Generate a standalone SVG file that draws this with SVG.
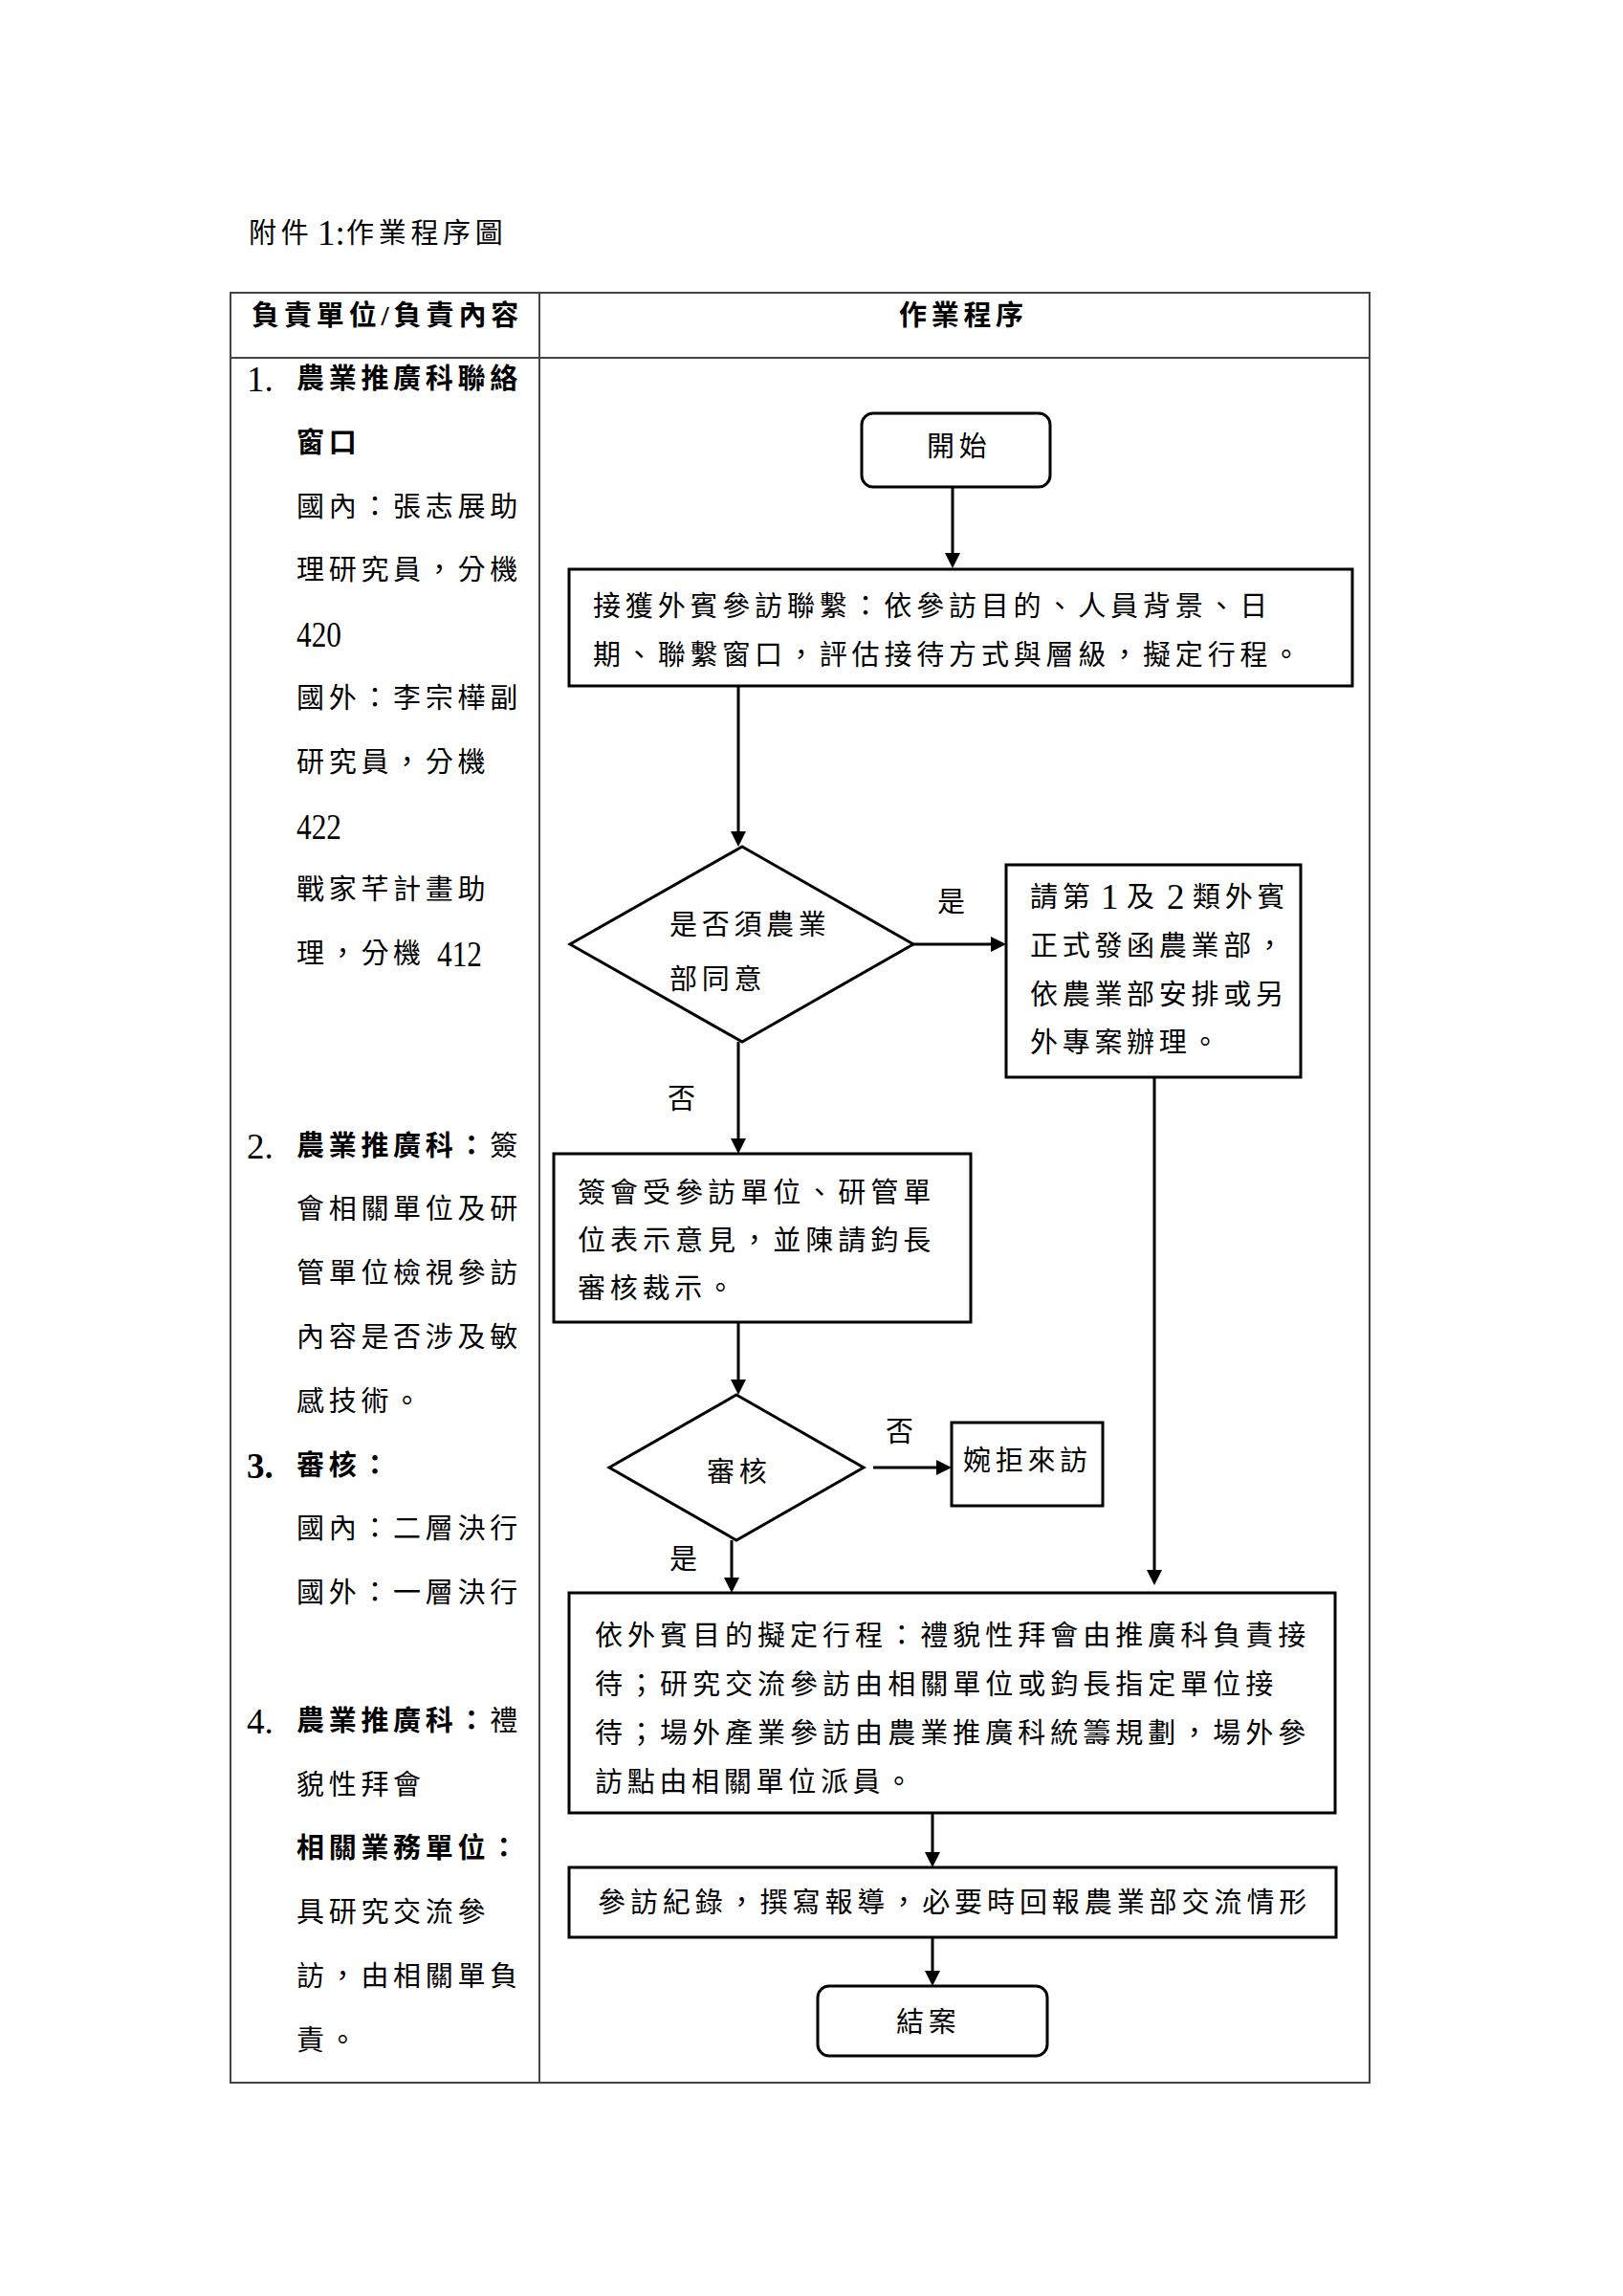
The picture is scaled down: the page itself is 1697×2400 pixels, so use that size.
<svg xmlns="http://www.w3.org/2000/svg" width="1697" height="2400" viewBox="0 0 1697 2400">
<style>
.t{font-family:"Liberation Serif","Noto Sans CJK TC",serif;font-size:29px;letter-spacing:4.7px;fill:#000}
.b{font-weight:700}
.d{font-family:"Liberation Serif",serif;font-size:37px;letter-spacing:0}
.tbl{fill:none;stroke:#444;stroke-width:2}
.shape{fill:#fff;stroke:#000;stroke-width:3}
.c{fill:none;stroke:#000;stroke-width:3}
</style>
<defs>
<marker id="ah" markerUnits="userSpaceOnUse" markerWidth="18" markerHeight="16" refX="6" refY="8" orient="auto">
<path d="M0,0 L16,8 L0,16 z" fill="#000"/>
</marker>
</defs>
<rect x="0" y="0" width="1697" height="2400" fill="#fff"/>

<text class="t" x="260" y="254">附件<tspan class="d" x="332" y="256">1:</tspan><tspan x="362" y="254">作業程序圖</tspan></text>

<g id="table">
<rect class="tbl" x="241" y="306" width="1191" height="1871"/>
<line class="tbl" x1="241" y1="374" x2="1432" y2="374"/>
<line class="tbl" x1="564" y1="306" x2="564" y2="2177"/>
<text class="t b" x="263" y="340" textLength="284">負責單位/負責內容</text>
<text class="t b" x="940" y="340">作業程序</text>
</g>

<g id="responsibilities">
<text class="t d" x="258" y="409">1.</text>
<text class="t b" x="310" y="406">農業推廣科聯絡</text>
<text class="t b" x="310" y="472.8">窗口</text>
<text class="t" x="310" y="539.6">國內：張志展助</text>
<text class="t" x="310" y="606.4">理研究員，分機</text>
<text class="t d" x="310" y="676" textLength="47" lengthAdjust="spacingAndGlyphs">420</text>
<text class="t" x="310" y="740">國外：李宗樺副</text>
<text class="t" x="310" y="806.8">研究員，分機</text>
<text class="t d" x="310" y="876.5" textLength="47" lengthAdjust="spacingAndGlyphs">422</text>
<text class="t" x="310" y="940.4">戰家芊計畫助</text>
<text class="t" x="310" y="1007.2">理，分機</text>
<text class="t d" x="457" y="1010" textLength="47" lengthAdjust="spacingAndGlyphs">412</text>

<text class="t d" x="258" y="1210.5">2.</text>
<text class="t" x="310" y="1207.6"><tspan class="b">農業推廣科：</tspan>簽</text>
<text class="t" x="310" y="1274.4">會相關單位及研</text>
<text class="t" x="310" y="1341.2">管單位檢視參訪</text>
<text class="t" x="310" y="1408">內容是否涉及敏</text>
<text class="t" x="310" y="1474.8">感技術。</text>
<text class="t d b" x="258" y="1544.5">3.</text>
<text class="t b" x="310" y="1541.6">審核：</text>
<text class="t" x="310" y="1608.4">國內：二層決行</text>
<text class="t" x="310" y="1675.2">國外：一層決行</text>

<text class="t d" x="258" y="1811.7">4.</text>
<text class="t" x="310" y="1808.8"><tspan class="b">農業推廣科：</tspan>禮</text>
<text class="t" x="310" y="1875.6">貌性拜會</text>
<text class="t b" x="310" y="1942.4">相關業務單位：</text>
<text class="t" x="310" y="2009.2">具研究交流參</text>
<text class="t" x="310" y="2076">訪，由相關單負</text>
<text class="t" x="310" y="2142.8">責。</text>
</g>

<g id="n-start">
<rect class="shape" x="901" y="432" width="197" height="77" rx="12"/>
<text class="t" x="969" y="477">開始</text>
</g>

<g id="n-receive">
<rect class="shape" x="595" y="595" width="819" height="122"/>
<text class="t" x="620" y="644" textLength="710">接獲外賓參訪聯繫：依參訪目的、人員背景、日</text>
<text class="t" x="620" y="695" textLength="744">期、聯繫窗口，評估接待方式與層級，擬定行程。</text>
</g>

<g id="n-d1">
<polygon class="shape" points="776,885 955,987 776,1089 596,987"/>
<text class="t" x="700" y="977">是否須農業</text>
<text class="t" x="700" y="1034">部同意</text>
</g>

<g id="n-formal">
<rect class="shape" x="1052" y="904" width="308" height="222"/>
<text class="t" x="1077" y="948">請第<tspan class="d" x="1151" y="950">1</tspan><tspan x="1178" y="948">及</tspan><tspan class="d" x="1220" y="950">2</tspan><tspan x="1247" y="948">類外賓</tspan></text>
<text class="t" x="1077" y="999">正式發函農業部，</text>
<text class="t" x="1077" y="1050">依農業部安排或另</text>
<text class="t" x="1077" y="1100">外專案辦理。</text>
</g>

<g id="n-sign">
<rect class="shape" x="579" y="1206" width="436" height="176"/>
<text class="t" x="604" y="1257" textLength="374">簽會受參訪單位、研管單</text>
<text class="t" x="604" y="1307" textLength="374">位表示意見，並陳請鈞長</text>
<text class="t" x="604" y="1357">審核裁示。</text>
</g>

<g id="n-d2">
<polygon class="shape" points="770,1458 903,1534 770,1610 637,1534"/>
<text class="t" x="739" y="1549">審核</text>
</g>

<g id="n-reject">
<rect class="shape" x="995" y="1487" width="158" height="87"/>
<text class="t" x="1007" y="1537">婉拒來訪</text>
</g>

<g id="n-arrange">
<rect class="shape" x="595" y="1665" width="801" height="230"/>
<text class="t" x="622" y="1720" textLength="748">依外賓目的擬定行程：禮貌性拜會由推廣科負責接</text>
<text class="t" x="622" y="1771" textLength="714">待；研究交流參訪由相關單位或鈞長指定單位接</text>
<text class="t" x="622" y="1822" textLength="748">待；場外產業參訪由農業推廣科統籌規劃，場外參</text>
<text class="t" x="622" y="1873">訪點由相關單位派員。</text>
</g>

<g id="n-record">
<rect class="shape" x="595" y="1952" width="802" height="73"/>
<text class="t" x="625" y="1999" textLength="746">參訪紀錄，撰寫報導，必要時回報農業部交流情形</text>
</g>

<g id="n-end">
<rect class="shape" x="855" y="2076" width="240" height="73" rx="12"/>
<text class="t" x="937" y="2124">結案</text>
</g>

<g id="connectors">
<line class="c" x1="996" y1="509" x2="996" y2="584" marker-end="url(#ah)"/>
<line class="c" x1="772" y1="717" x2="772" y2="875" marker-end="url(#ah)"/>
<line class="c" x1="955" y1="987" x2="1042" y2="987" marker-end="url(#ah)"/>
<line class="c" x1="1207" y1="1126" x2="1207" y2="1647" marker-end="url(#ah)"/>
<line class="c" x1="772" y1="1089" x2="772" y2="1196" marker-end="url(#ah)"/>
<line class="c" x1="772" y1="1382" x2="772" y2="1448" marker-end="url(#ah)"/>
<line class="c" x1="913" y1="1534" x2="985" y2="1534" marker-end="url(#ah)"/>
<line class="c" x1="765" y1="1610" x2="765" y2="1655" marker-end="url(#ah)"/>
<line class="c" x1="975" y1="1895" x2="975" y2="1942" marker-end="url(#ah)"/>
<line class="c" x1="975" y1="2025" x2="975" y2="2066" marker-end="url(#ah)"/>
</g>

<g id="labels">
<text class="t" x="980" y="953">是</text>
<text class="t" x="698" y="1159">否</text>
<text class="t" x="926" y="1507">否</text>
<text class="t" x="700" y="1640">是</text>
</g>
</svg>
